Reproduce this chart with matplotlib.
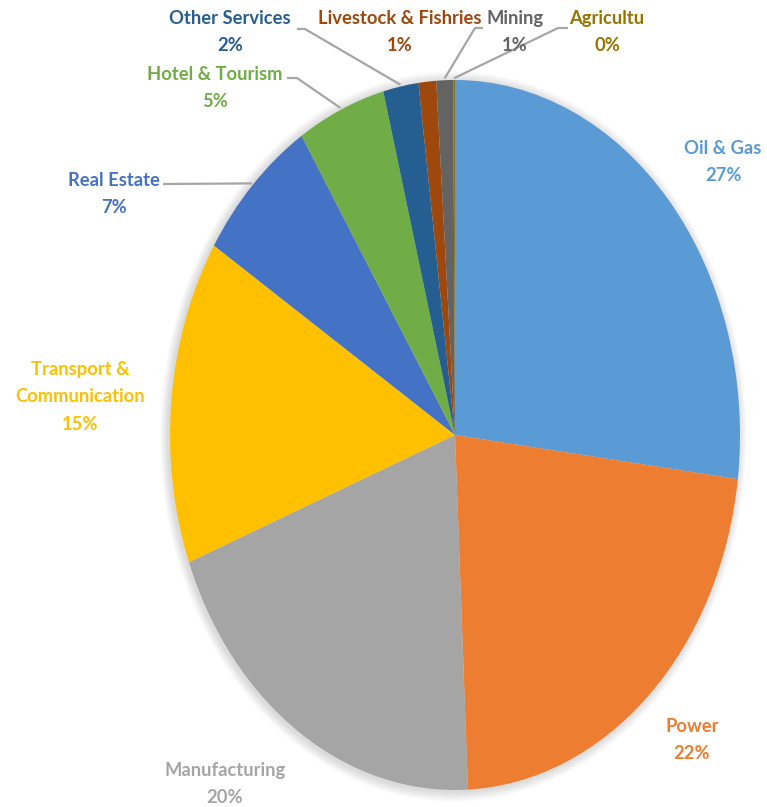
import matplotlib
matplotlib.use("Agg")
import matplotlib.pyplot as plt
import numpy as np
from matplotlib.patches import Ellipse

# data
sectors = ["Oil & Gas", "Power", "Manufacturing", "Transport &\nCommunication",
           "Real Estate", "Hotel & Tourism", "Other Services",
           "Livestock & Fishries", "Mining", "Agricultu"]
shares = [27.0, 22.3, 19.9, 14.8, 7.0, 5.0, 2.0, 1.0, 0.95, 0.1]
pct_labels = ["27%", "22%", "20%", "15%", "7%", "5%", "2%", "1%", "1%", "0%"]

colors = ["#5B9BD5", "#ED7D31", "#A5A5A5", "#FFC000", "#4472C4",
          "#70AD47", "#255E91", "#9E480E", "#636363", "#997300"]

W, H = 767, 807
CX, CY, RX, RY = 455, 435, 285, 355   # pie centre / radii in pixels


def px(x, y):
    # pixel position -> data coords (pie radius = 1)
    return (x - CX) / RX, (CY - y) / RY


# label centres (pixels) and leader line elbow (None = no line)
label_pos = [(723, 162), (692, 740), (225, 784), (80, 397), (114, 194),
             (215, 88), (230, 32), (400, 32), (515, 32), (607, 32)]
elbows = [None, None, None, None, (163, 184),
          [(287, 78), (297, 78)], [(297, 29), (305, 29)], None,
          [(483, 28), (475, 28)], [(568, 28), (558, 28)]]

fig = plt.figure(figsize=(W / 100, H / 100), dpi=100)
ax = fig.add_axes([0, 0, 1, 1])

# soft shadow around the pie
for i, r in enumerate(np.linspace(1.028, 1.004, 6)):
    ax.add_patch(Ellipse((-0.006, -0.004), 2 * r, 2 * r, color="#000000",
                         alpha=0.025, lw=0, zorder=0))

wedges, _ = ax.pie(shares, colors=colors, startangle=90, counterclock=False,
                   radius=1, wedgeprops=dict(linewidth=0))
for w in wedges:
    w.set_zorder(2)

ax.set_aspect("auto")
ax.set_xlim(-CX / RX, (W - CX) / RX)
ax.set_ylim((CY - H) / RY, CY / RY)
ax.axis("off")

font = dict(family=["Lato", "DejaVu Sans"], fontweight="bold", fontsize=13.2)

for i, w in enumerate(wedges):
    lx, ly = px(*label_pos[i])
    ax.text(lx, ly, sectors[i] + "\n" + pct_labels[i], color=colors[i],
            ha="center", va="center", linespacing=1.75, zorder=5, **font)

    e = elbows[i]
    if e is None:
        continue
    mid = np.deg2rad((w.theta1 + w.theta2) / 2)
    ex, ey = 1.005 * np.cos(mid), 1.005 * np.sin(mid)
    if isinstance(e, tuple):
        pts = [px(*e)]
    else:
        pts = [px(*p) for p in e]
    xs = [p[0] for p in pts] + [ex]
    ys = [p[1] for p in pts] + [ey]
    ax.plot(xs, ys, color="#A6A6A6", lw=1.6, zorder=1, solid_capstyle="butt")

fig.savefig("out.png", dpi=100, facecolor="white")
